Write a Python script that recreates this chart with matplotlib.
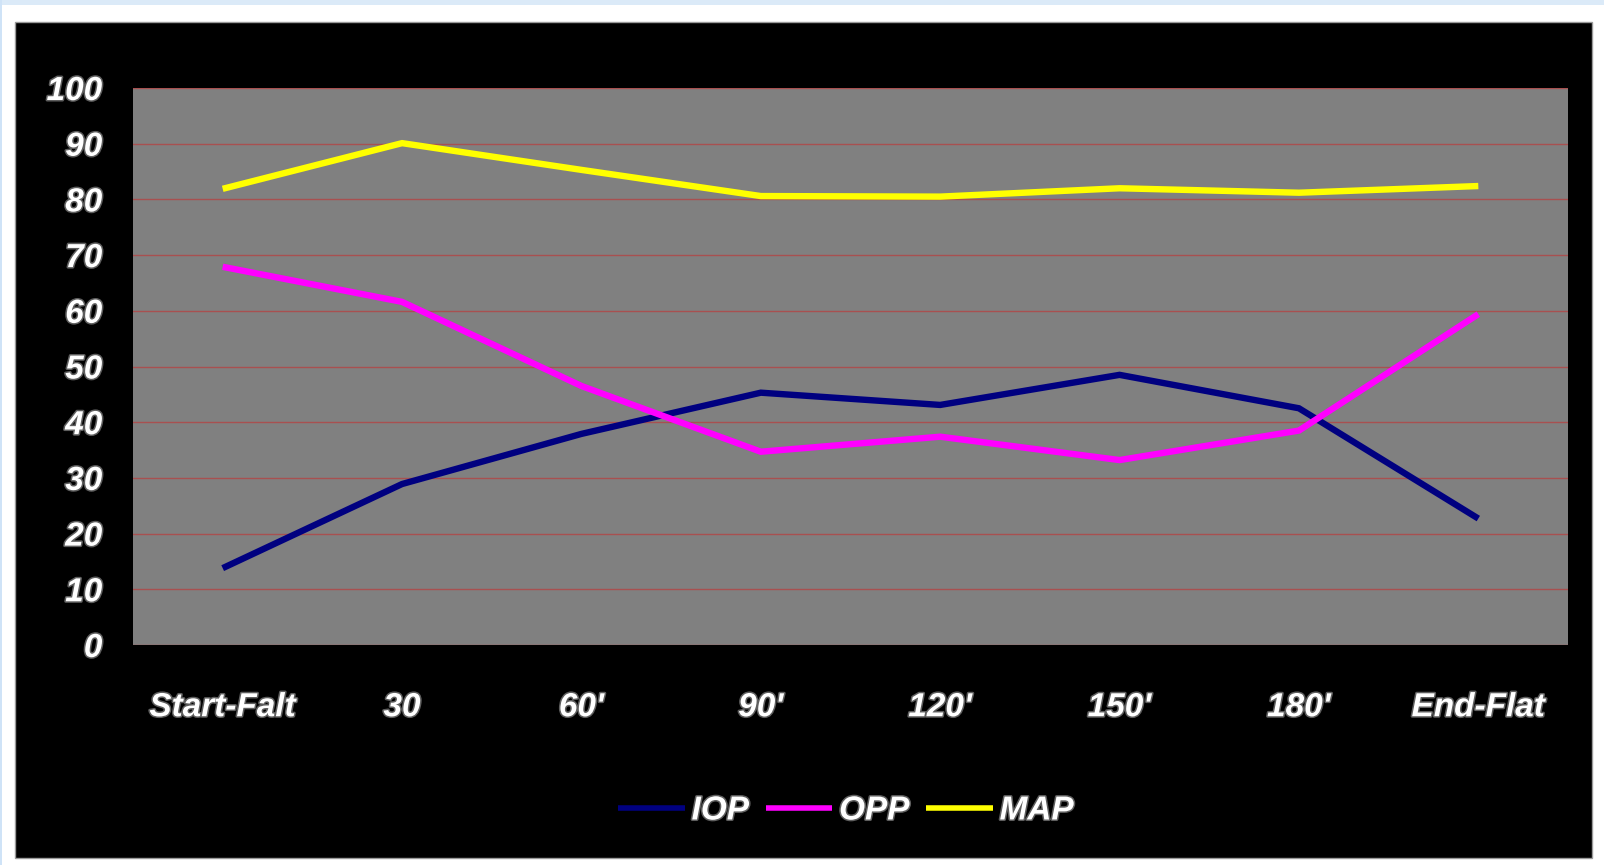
import matplotlib
matplotlib.use("Agg")
import matplotlib.pyplot as plt
import matplotlib.patheffects as pe
from matplotlib.patches import Rectangle

# Data
categories = ["Start-Falt", "30", "60'", "90'", "120'", "150'", "180'", "End-Flat"]
iop = [13.8, 28.9, 37.9, 45.3, 43.1, 48.5, 42.5, 22.7]
opp = [67.9, 61.6, 46.5, 34.7, 37.4, 33.2, 38.5, 59.4]
map_ = [81.9, 90.1, 85.3, 80.6, 80.5, 82.0, 81.2, 82.4]
y_ticks = list(range(0, 101, 10))

series = [("IOP", iop, "#000080"), ("OPP", opp, "#ff00ff"), ("MAP", map_, "#ffff00")]

W, H = 1604, 865
fig = plt.figure(figsize=(W / 100, H / 100), dpi=100)
fig.patch.set_facecolor("white")

# page edges and black chart frame
fig.patches.append(Rectangle((0, 1 - 5 / H), 1, 5 / H, transform=fig.transFigure,
                             facecolor="#dbeaf8", edgecolor="none", zorder=0))
fig.patches.append(Rectangle((0, 0), 2 / W, 1, transform=fig.transFigure,
                             facecolor="#cfe3f7", edgecolor="none", zorder=0))
fig.patches.append(Rectangle((15 / W, 1 - 858 / H), (1592 - 15) / W, (858 - 22) / H,
                             transform=fig.transFigure, facecolor="black",
                             edgecolor="#9a9a9a", linewidth=1.0, zorder=1))

left, right, top, bottom = 133, 1568, 88, 645
ax = fig.add_axes([left / W, 1 - bottom / H, (right - left) / W, (bottom - top) / H])
ax.set_facecolor("#808080")
ax.set_zorder(2)

font = dict(family=["Liberation Sans", "DejaVu Sans"], style="italic",
            weight="bold", size=24, color="white")
glow = [pe.withStroke(linewidth=2.2, foreground="#5e5e5e")]

x = list(range(len(categories)))
for name, vals, col in series:
    ax.plot(x, vals, color=col, linewidth=4.6, label=name,
            solid_capstyle="butt", solid_joinstyle="miter", zorder=3)

ax.set_xlim(-0.5, len(categories) - 0.5)
ax.set_ylim(0, 100)
ax.set_yticks(y_ticks)
ax.set_xticks(x)
ax.set_yticklabels([str(t) for t in y_ticks], fontdict=font)
ax.set_xticklabels(categories, fontdict=font)
for lbl in ax.get_xticklabels() + ax.get_yticklabels():
    lbl.set_path_effects(glow)
ax.tick_params(axis="y", length=0, pad=22)
ax.tick_params(axis="x", length=0, pad=34)
ax.yaxis.grid(True, color="#b04848", linewidth=1.0, alpha=0.85)
ax.set_axisbelow(True)
for s in ax.spines.values():
    s.set_visible(False)

leg = fig.legend(loc="center", bbox_to_anchor=(846 / W, 1 - 811 / H), ncol=3,
                 frameon=False, handlelength=2.0, handletextpad=0.2,
                 columnspacing=0.5,
                 prop=dict(family=["Liberation Sans", "DejaVu Sans"],
                           style="italic", weight="bold", size=24))
for t in leg.get_texts():
    t.set_color("white")
    t.set_path_effects(glow)
for h in leg.get_lines():
    h.set_linewidth(4.0)

fig.savefig("out.png", dpi=100, facecolor=fig.get_facecolor())
